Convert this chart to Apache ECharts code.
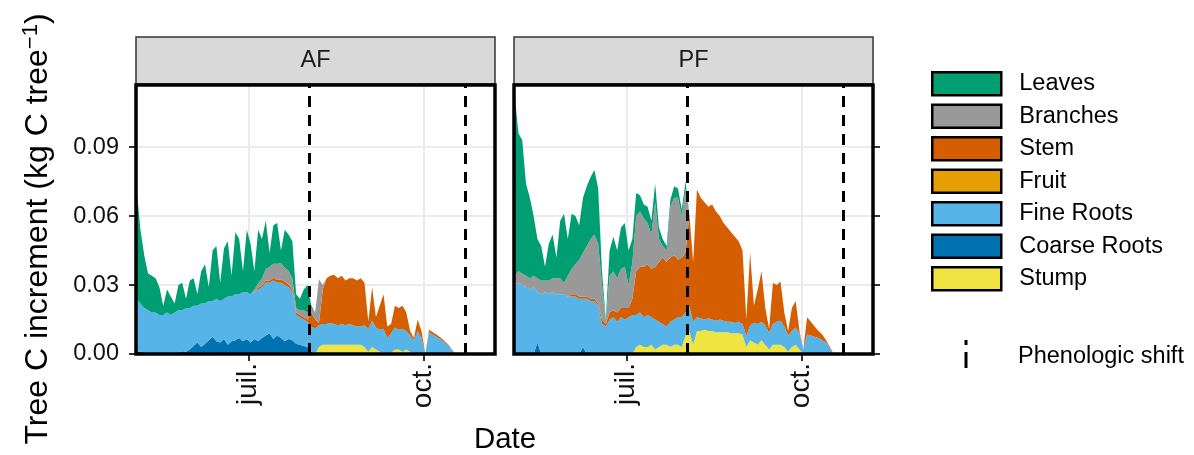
<!DOCTYPE html>
<html>
<head>
<meta charset="utf-8">
<script src="https://cdn.jsdelivr.net/npm/echarts@6/dist/echarts.min.js"></script>
<style>
  html, body { margin: 0; padding: 0; background: #fff; }
  #chart { width: 1194px; height: 455px; }
</style>
</head>
<body>
<div id="chart"></div>
<script>
// dates of the model output (every 2nd day)
const dates = [
  '2021-05-03', '2021-05-05', '2021-05-07', '2021-05-09', '2021-05-11', '2021-05-13', '2021-05-15', '2021-05-17', '2021-05-19', '2021-05-21', '2021-05-23', '2021-05-25', '2021-05-27', '2021-05-29', '2021-05-31',
  '2021-06-02', '2021-06-04', '2021-06-06', '2021-06-08', '2021-06-10', '2021-06-12', '2021-06-14', '2021-06-16', '2021-06-18', '2021-06-20', '2021-06-22', '2021-06-24', '2021-06-26', '2021-06-28', '2021-06-30',
  '2021-07-02', '2021-07-04', '2021-07-06', '2021-07-08', '2021-07-10', '2021-07-12', '2021-07-14', '2021-07-16', '2021-07-18', '2021-07-20', '2021-07-22', '2021-07-24', '2021-07-26', '2021-07-28', '2021-07-30',
  '2021-08-01', '2021-08-03', '2021-08-05', '2021-08-07', '2021-08-09', '2021-08-11', '2021-08-13', '2021-08-15', '2021-08-17', '2021-08-19', '2021-08-21', '2021-08-23', '2021-08-25', '2021-08-27', '2021-08-29', '2021-08-31',
  '2021-09-02', '2021-09-04', '2021-09-06', '2021-09-08', '2021-09-10', '2021-09-12', '2021-09-14', '2021-09-16', '2021-09-18', '2021-09-20', '2021-09-22', '2021-09-24', '2021-09-26', '2021-09-28', '2021-09-30',
  '2021-10-02', '2021-10-04', '2021-10-06', '2021-10-08', '2021-10-10', '2021-10-12', '2021-10-14', '2021-10-16', '2021-10-18'
]

// AF (kg C tree-1)
const afLeaves = [
  0.048, 0.032, 0.023, 0.016, 0.016, 0.015, 0.012, 0.004, 0.010, 0.008,
  0.004, 0.011, 0.012, 0.004, 0.012, 0.012, 0.005, 0.014, 0.017, 0.006,
  0.022, 0.023, 0.008, 0.022, 0.024, 0.009, 0.027, 0.024, 0.009, 0.027,
  0.022, 0.008, 0.0232, 0.0172, 0.021, 0.006, 0.0168, 0.0178, 0.0055, 0.0165,
  0.0158, 0.016, 0.006, 0.005, 0.009, 0.012, 0.001, 0, 0, 0,
  0, 0, 0, 0, 0, 0, 0, 0, 0, 0,
  0, 0, 0, 0, 0, 0, 0, 0, 0, 0,
  0, 0, 0, 0, 0, 0, 0, 0, 0, 0,
  0, 0, 0, 0, 0
]
const afBranches = [
  0, 0, 0, 0, 0, 0, 0, 0, 0, 0,
  0, 0, 0, 0, 0, 0, 0, 0, 0, 0,
  0, 0, 0, 0, 0, 0, 0, 0, 0, 0,
  0, 0.001, 0.002, 0.003, 0.005, 0.006, 0.006, 0.007, 0.007, 0.006,
  0.006, 0.005, 0.002, 0.002, 0.003, 0.003, 0.002, 0.003, 0.019, 0.002,
  0, 0, 0, 0, 0, 0, 0, 0, 0, 0,
  0, 0, 0, 0, 0, 0, 0, 0, 0, 0,
  0, 0, 0, 0, 0, 0, 0, 0, 0, 0,
  0, 0, 0, 0, 0
]
const afStem = [
  0, 0, 0, 0, 0, 0, 0, 0, 0, 0,
  0, 0, 0, 0, 0, 0, 0, 0, 0, 0,
  0, 0, 0, 0, 0, 0, 0, 0, 0, 0,
  0, 0, 0.0008, 0.0008, 0.001, 0.001, 0.0012, 0.0012, 0.0015, 0.0015,
  0.0012, 0.001, 0.001, 0.001, 0.001, 0.001, 0.006, 0.004, 0.001, 0.015,
  0.020, 0.0205, 0.0215, 0.0205, 0.021, 0.0195, 0.020, 0.0205, 0.020, 0.021,
  0.0185, 0.003, 0.0145, 0.0045, 0.0105, 0.015, 0.005, 0.004, 0.0095, 0.0095,
  0.010, 0.008, 0.002, 0.001, 0.005, 0.003, 0, 0.0011, 0.001, 0.001,
  0.0008, 0.0006, 0.0004, 0.0002, 0
]
const afFruit = []
const afFine = [
  0.0232, 0.021, 0.0194, 0.0186, 0.0177, 0.0177, 0.0166, 0.0167, 0.0176, 0.0165,
  0.0176, 0.0182, 0.0178, 0.019, 0.018, 0.0175, 0.016, 0.019, 0.0175, 0.017,
  0.0155, 0.0185, 0.018, 0.0175, 0.021, 0.0195, 0.020, 0.019, 0.0215, 0.0205,
  0.021, 0.0205, 0.0225, 0.022, 0.023, 0.022, 0.0255, 0.023, 0.024, 0.0245,
  0.0225, 0.021, 0.0125, 0.012, 0.0115, 0.011, 0.011, 0.011, 0.0095, 0.009,
  0.009, 0.0095, 0.009, 0.0085, 0.009, 0.0085, 0.009, 0.0085, 0.008, 0.008,
  0.0095, 0.010, 0.0115, 0.0095, 0.0095, 0.0105, 0.0065, 0.0085, 0.0095, 0.0085,
  0.010, 0.008, 0.007, 0.006, 0.010, 0.007, 0, 0.0095, 0.0085, 0.0074,
  0.0064, 0.0052, 0.0038, 0.0018, 0
]
const afCoarse = [
  0.0008, 0.001, 0.0006, 0.0004, 0.0003, 0.0003, 0.0004, 0.0003, 0.0004, 0.0005,
  0.0004, 0.0008, 0.0012, 0.001, 0.002, 0.0035, 0.005, 0.003, 0.0045, 0.006,
  0.0075, 0.0055, 0.005, 0.0065, 0.004, 0.0055, 0.006, 0.007, 0.0055, 0.0065,
  0.005, 0.0065, 0.0055, 0.007, 0.008, 0.009, 0.0065, 0.008, 0.007, 0.0055,
  0.0065, 0.006, 0.0045, 0.004, 0.0035, 0.003, 0.001, 0, 0, 0,
  0, 0, 0, 0, 0, 0, 0, 0, 0, 0,
  0, 0, 0, 0, 0, 0, 0, 0, 0, 0,
  0, 0, 0, 0, 0, 0, 0, 0, 0, 0,
  0, 0, 0, 0, 0
]
const afStump = [
  0, 0, 0, 0, 0, 0, 0, 0, 0, 0,
  0, 0, 0, 0, 0, 0, 0, 0, 0, 0,
  0, 0, 0, 0, 0, 0, 0, 0, 0, 0,
  0, 0, 0, 0, 0, 0, 0, 0, 0, 0,
  0, 0, 0, 0, 0, 0, 0, 0, 0.003, 0.004,
  0.004, 0.004, 0.004, 0.004, 0.004, 0.004, 0.004, 0.004, 0.004, 0.004,
  0.003, 0.001, 0.003, 0.002, 0.001, 0.0005, 0.0005, 0.0005, 0.002, 0.002,
  0.001, 0.002, 0.001, 0, 0, 0, 0, 0, 0, 0,
  0, 0, 0, 0, 0
]

// PF (kg C tree-1)
const pfLeaves = [
  0.079, 0.060, 0.058, 0.040, 0.035, 0.026, 0.017, 0.015, 0.006, 0.016,
  0.019, 0.009, 0.025, 0.030, 0.016, 0.024, 0.021, 0.015, 0.024, 0.026,
  0.027, 0.028, 0.024, 0.006, 0.001, 0.011, 0.015, 0.012, 0.018, 0.019,
  0.015, 0.010, 0.010, 0.007, 0.006, 0.007, 0.006, 0.008, 0.005, 0.003,
  0.002, 0.003, 0.005, 0.004, 0.003, 0.003, 0, 0, 0, 0,
  0, 0, 0, 0, 0, 0, 0, 0, 0, 0,
  0, 0, 0, 0, 0, 0, 0, 0, 0, 0,
  0, 0, 0, 0, 0, 0, 0, 0, 0, 0,
  0, 0, 0, 0, 0
]
const pfBranches = [
  0.004, 0.005, 0.005, 0.005, 0.005, 0.005, 0.006, 0.006, 0.005, 0.006,
  0.006, 0.007, 0.007, 0.005, 0.009, 0.011, 0.013, 0.016, 0.019, 0.022,
  0.026, 0.028, 0.026, 0.015, 0.001, 0.016, 0.017, 0.015, 0.017, 0.018,
  0.010, 0.016, 0.024, 0.024, 0.021, 0.018, 0.015, 0.028, 0.010, 0.005,
  0.005, 0.022, 0.025, 0.027, 0.018, 0.028, 0, 0, 0, 0,
  0, 0, 0, 0, 0, 0, 0, 0, 0, 0,
  0, 0, 0, 0, 0, 0, 0, 0, 0, 0,
  0, 0, 0, 0, 0, 0, 0, 0, 0, 0,
  0, 0, 0, 0, 0
]
const pfStem = [
  0, 0, 0, 0, 0, 0, 0, 0, 0, 0,
  0, 0, 0, 0, 0, 0.001, 0.001, 0.001, 0.001, 0.001,
  0.001, 0.001, 0.001, 0.002, 0.001, 0.003, 0.003, 0.004, 0.004, 0.005,
  0.004, 0.007, 0.019, 0.020, 0.022, 0.022, 0.021, 0.023, 0.026, 0.029,
  0.028, 0.028, 0.028, 0.025, 0.026, 0.026, 0.040, 0.026, 0.0555, 0.0525,
  0.051, 0.0485, 0.050, 0.0475, 0.045, 0.0425, 0.041, 0.039, 0.0375, 0.035,
  0.032, 0.007, 0.0315, 0.0075, 0.015, 0.022, 0.0075, 0.002, 0.018, 0.016,
  0.017, 0.006, 0.002, 0.010, 0.0115, 0.001, 0, 0.0075, 0.006, 0.0045,
  0.003, 0.0025, 0.001, 0.0005, 0
]
const pfFruit = []
const pfFine = [
  0.030, 0.031, 0.030, 0.029, 0.028, 0.029, 0.022, 0.026, 0.027, 0.026,
  0.027, 0.026, 0.026, 0.026, 0.025, 0.025, 0.025, 0.024, 0.021, 0.024,
  0.023, 0.023, 0.021, 0.013, 0.012, 0.015, 0.016, 0.014, 0.016, 0.015,
  0.016, 0.017, 0.014, 0.014, 0.013, 0.014, 0.012, 0.013, 0.011, 0.009,
  0.008, 0.011, 0.011, 0.012, 0.013, 0.010, 0.011, 0.010, 0.006, 0.0055,
  0.0045, 0.0055, 0.005, 0.005, 0.0055, 0.005, 0.0045, 0.005, 0.0045, 0.005,
  0.0045, 0.005, 0.0065, 0.0085, 0.009, 0.008, 0.0085, 0.007, 0.009, 0.010,
  0.0105, 0.009, 0.007, 0.007, 0.0075, 0.007, 0.002, 0.0085, 0.008, 0.0075,
  0.007, 0.006, 0.005, 0.0025, 0
]
const pfCoarse = [
  0, 0, 0, 0, 0, 0, 0.005, 0, 0, 0,
  0, 0, 0, 0, 0, 0, 0, 0, 0.003, 0,
  0, 0, 0, 0, 0, 0, 0, 0, 0, 0,
  0, 0, 0, 0, 0, 0, 0, 0, 0, 0,
  0, 0, 0, 0, 0, 0, 0, 0, 0, 0,
  0, 0, 0, 0, 0, 0, 0, 0, 0, 0,
  0, 0, 0, 0, 0, 0, 0, 0, 0, 0,
  0, 0, 0, 0, 0, 0, 0, 0, 0, 0,
  0, 0, 0, 0, 0
]
const pfStump = [
  0, 0, 0, 0, 0, 0, 0, 0, 0, 0,
  0, 0, 0, 0, 0, 0, 0, 0, 0, 0,
  0, 0, 0, 0, 0, 0, 0, 0, 0, 0,
  0, 0, 0.003, 0.004, 0.003, 0.003, 0.004, 0.002, 0.003, 0.004,
  0.004, 0.003, 0.004, 0.004, 0.003, 0.008, 0.010, 0.004, 0.010, 0.010,
  0.0105, 0.010, 0.010, 0.0095, 0.0095, 0.0095, 0.0095, 0.009, 0.009, 0.009,
  0.0085, 0.003, 0.006, 0.005, 0.004, 0.006, 0.004, 0.002, 0.004, 0.004,
  0.004, 0.003, 0.001, 0.003, 0.004, 0.002, 0, 0, 0, 0,
  0, 0, 0, 0, 0
]

const phenoShift = ['2021-08-02', '2021-10-23']
const xTicks = ['2021-07-01', '2021-10-01']
const xTickLabels = ['juil.', 'oct.']
const yTicks = [0, 0.03, 0.06, 0.09]
const facets = ['AF', 'PF']
// stacking order, bottom first
const partNames = ['Stump', 'Coarse Roots', 'Fine Roots', 'Fruit', 'Stem', 'Branches', 'Leaves']
const partColors = ['#F0E442', '#0072B2', '#56B4E9', '#E69F00', '#D55E00', '#999999', '#009E73']

const FONT = 'Liberation Sans, Arial, Helvetica, sans-serif'
const panelLeft = [136, 514]
const panelTop = 85
const panelW = 359
const panelH = 269
const ts = s => echarts.time.parse(s).getTime()
const xTickTs = xTicks.map(ts)

const chart = echarts.init(document.getElementById('chart'), null, { renderer: 'canvas' })

function areaSeries (values, i, p) {
  return {
    name: partNames[i],
    type: 'line',
    stack: facets[p],
    xAxisIndex: p,
    yAxisIndex: p,
    symbol: 'none',
    color: partColors[i],
    lineStyle: { width: 0 },
    areaStyle: { opacity: 1 },
    emphasis: { disabled: true },
    data: values.map((v, k) => [dates[k], v])
  }
}

const series = []
;[[afStump, afCoarse, afFine, afFruit, afStem, afBranches, afLeaves],
  [pfStump, pfCoarse, pfFine, pfFruit, pfStem, pfBranches, pfLeaves]].forEach((parts, p) => {
  parts.forEach((values, i) => series.push(areaSeries(values, i, p)))
  // vertical dashed lines
  series.push({
    name: 'Phenologic shift',
    type: 'line',
    xAxisIndex: p,
    yAxisIndex: p,
    data: [],
    markLine: {
      silent: true,
      symbol: ['none', 'none'],
      label: { show: false },
      lineStyle: { color: '#000', width: 3, type: [11, 8] },
      data: phenoShift.map(d => ({ xAxis: ts(d) }))
    }
  })
})

const xAxisBase = p => ({
  gridIndex: p,
  type: 'time',
  min: ts('2021-05-02 16:00'),
  max: ts('2021-11-07 17:00'),
  splitNumber: 2,
  axisLine: { show: false },
  axisTick: { show: true, length: 7, lineStyle: { color: '#333', width: 2 } },
  axisLabel: {
    rotate: 90,
    margin: 9,
    fontSize: 28,
    fontFamily: FONT,
    color: '#111',
    formatter: v => xTickLabels[xTickTs.indexOf(v)] || ''
  },
  splitLine: { show: true, lineStyle: { color: '#EBEBEB', width: 2 } }
})

const yAxisBase = (p, pos, ticks, labels, grid) => ({
  gridIndex: p,
  type: 'value',
  position: pos,
  min: 0,
  max: 0.117,
  interval: 0.03,
  axisLine: { show: false },
  axisTick: { show: ticks, length: 7, customValues: yTicks, lineStyle: { color: '#333', width: 2 } },
  axisLabel: {
    show: labels,
    customValues: yTicks,
    margin: 17,
    fontSize: 23.5,
    fontFamily: FONT,
    color: '#111',
    formatter: v => v.toFixed(2)
  },
  splitLine: { show: grid, lineStyle: { color: '#EBEBEB', width: 2 } }
})

const graphics = []
facets.forEach((f, p) => {
  // strip
  graphics.push({
    type: 'rect',
    z: 100,
    shape: { x: panelLeft[p], y: 37, width: panelW, height: 47 },
    style: { fill: '#D9D9D9', stroke: '#333', lineWidth: 1.5 }
  })
  graphics.push({
    type: 'text',
    z: 101,
    x: panelLeft[p] + panelW / 2,
    y: 61,
    style: { text: f, fontSize: 23.5, fontFamily: FONT, fill: '#1A1A1A', align: 'center', verticalAlign: 'middle' }
  })
  // panel border
  graphics.push({
    type: 'rect',
    z: 100,
    shape: { x: panelLeft[p], y: panelTop, width: panelW, height: panelH },
    style: { fill: 'none', stroke: '#000', lineWidth: 3.5 }
  })
})
// axis titles
graphics.push({
  type: 'text',
  z: 100,
  x: 505,
  y: 440,
  style: { text: 'Date', fontSize: 29.4, fontFamily: FONT, fill: '#000', align: 'center', verticalAlign: 'middle' }
})
graphics.push({
  type: 'text',
  z: 100,
  x: 38,
  y: 229,
  rotation: Math.PI / 2,
  style: {
    text: '{a|Tree C increment (kg C tree}{s|−1}{a|)}',
    align: 'center',
    verticalAlign: 'middle',
    fill: '#000',
    rich: {
      a: { fontSize: 32, fontFamily: FONT, fill: '#000', lineHeight: 36 },
      s: { fontSize: 22, fontFamily: FONT, fill: '#000', verticalAlign: 'top', lineHeight: 36 }
    }
  }
})
// legend entry for the dashed lines
graphics.push({
  type: 'line',
  z: 100,
  shape: { x1: 966, y1: 340, x2: 966, y2: 368 },
  style: { stroke: '#000', lineWidth: 3, lineDash: [5, 7, 16, 0] }
})
graphics.push({
  type: 'text',
  z: 100,
  x: 1018,
  y: 357,
  style: { text: 'Phenologic shift', fontSize: 23.5, fontFamily: FONT, fill: '#000', verticalAlign: 'middle' }
})

chart.setOption({
  animation: false,
  backgroundColor: '#fff',
  grid: facets.map((f, p) => ({ left: panelLeft[p], top: panelTop, width: panelW, height: panelH })),
  xAxis: [xAxisBase(0), xAxisBase(1)],
  yAxis: [
    yAxisBase(0, 'left', true, true, true),
    yAxisBase(1, 'left', false, false, true),
    yAxisBase(1, 'right', true, false, false)
  ],
  legend: {
    data: ['Leaves', 'Branches', 'Stem', 'Fruit', 'Fine Roots', 'Coarse Roots', 'Stump'],
    orient: 'vertical',
    left: 931,
    top: 71,
    padding: 0,
    itemWidth: 69,
    itemHeight: 23,
    itemGap: 7,
    icon: 'rect',
    selectedMode: false,
    itemStyle: { borderColor: '#000', borderWidth: 2.5 },
    textStyle: { fontSize: 23.5, fontFamily: FONT, color: '#000', padding: [0, 0, 0, 13] }
  },
  graphic: graphics,
  series: series
})
</script>
</body>
</html>
